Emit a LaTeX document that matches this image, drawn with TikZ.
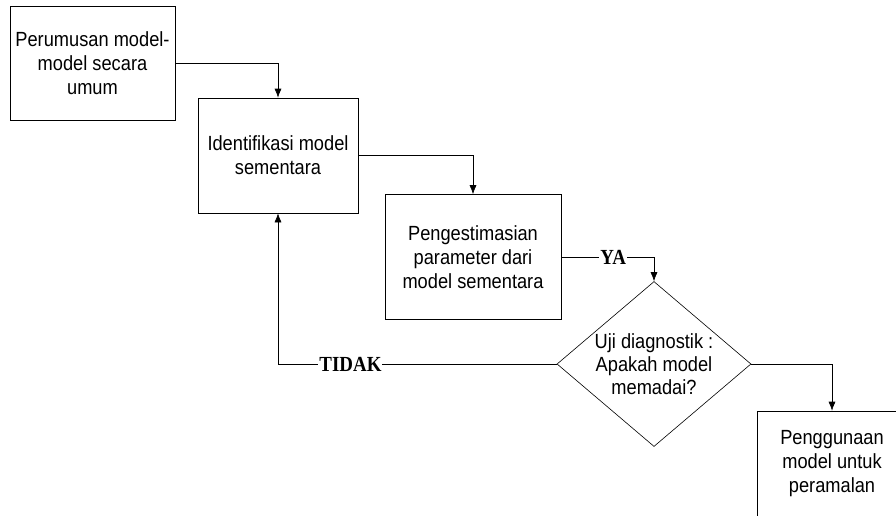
\documentclass[tikz,border=0pt]{standalone}
\usepackage{fontspec}
\setmainfont[FakeStretch=0.89]{Liberation Sans}
\newfontfamily\jawabfont[FakeStretch=0.88]{Liberation Serif}
\usetikzlibrary{shapes.geometric,arrows.meta}

\begin{document}
\begin{tikzpicture}[x=1pt,y=-1pt,line width=0.6pt,
  kotak/.style={draw,rectangle,align=center,inner sep=0pt,
    font=\fontsize{20.5}{24}\selectfont},
  jawab/.style={fill=white,inner sep=1pt,
    font=\jawabfont\bfseries\fontsize{21.5}{22}\selectfont},
  >={Latex[length=9pt,width=7pt]}]
\useasboundingbox (0,0) rectangle (896,515);
\clip (0,0) rectangle (896,515);
\node[kotak,minimum width=165pt,minimum height=114pt] (rumus)at(92.5,63){Perumusan model-\\model secara\\umum};
\node[kotak,minimum width=160pt,minimum height=115pt] (ident)at(278,155.5){Identifikasi model\\sementara};
\node[kotak,minimum width=176pt,minimum height=125pt] (estim)at(473,257){Pengestimasian\\parameter dari\\model sementara};
\node[draw,diamond,inner sep=0pt,minimum width=194pt,minimum height=165pt,
  label={[align=center,font=\fontsize{20.5}{23}\selectfont]center:Uji diagnostik :\\Apakah model\\memadai?}] (uji)at(654,364){};
\node[kotak,minimum width=150pt,minimum height=106pt] (guna)at(832,464){Penggunaan\\model untuk\\peramalan};
\draw[->] (rumus.east) -| (ident.north);
\draw[->] (ident.east) -| (estim.north);
\draw[->] (estim.east) -| node[jawab,pos=0.28]{YA} (uji.north);
\draw[->] (uji.west) -| node[jawab,pos=0.37]{TIDAK} (ident.south);
\draw[->] (uji.east) -| (guna.north);
\end{tikzpicture}
\end{document}
